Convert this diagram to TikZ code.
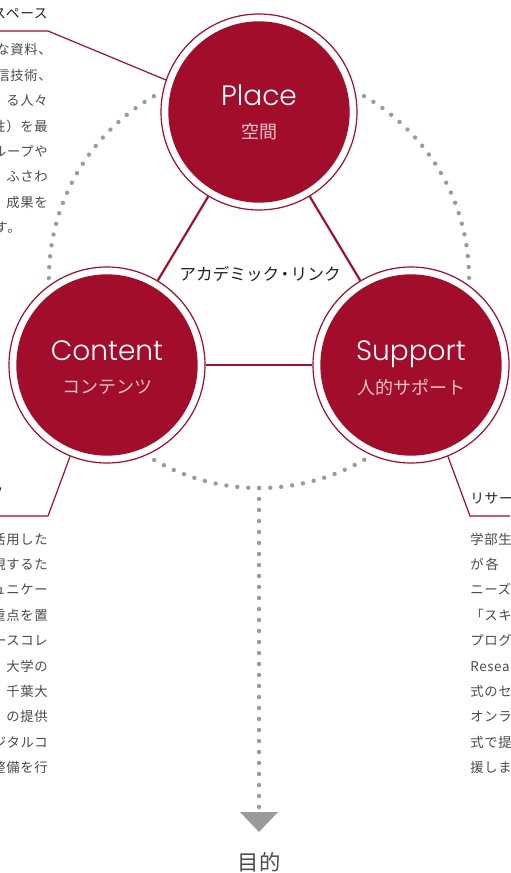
\documentclass[tikz,border=0pt]{standalone}
\usepackage{fontspec}
\newfontfamily\popfont{Poppins Light}
\newfontfamily\jpfont{Noto Sans CJK JP}
\newfontfamily\jpwide{Noto Sans CJK JP}[LetterSpace=5]
\usetikzlibrary{positioning}
\definecolor{lkred}{HTML}{A20D2C}
\definecolor{lkpink}{HTML}{EBC3CB}
\definecolor{lktext}{HTML}{4A4A4A}
\definecolor{lkdark}{HTML}{222222}
\definecolor{lkdot}{HTML}{9B9B9B}
\tikzset{
  ring/.style={circle,draw=lkred,fill=white,line width=0.9pt,minimum size=147pt,
               inner sep=0pt,preaction={draw=white,line width=7pt}},
  core/.style={circle,fill=lkred,minimum size=136pt,inner sep=0pt},
  title/.style={font=\popfont\fontsize{21}{21}\selectfont,text=white,anchor=base,inner sep=0pt},
  sub/.style={font=\jpfont\fontsize{13.5}{13.5}\selectfont,text=lkpink,inner sep=0pt},
  tie/.style={lkred,line width=1.6pt},
  call/.style={lkred,line width=0.9pt},
  dots/.style={lkdot,line width=3.3pt,line cap=round,dash pattern=on 0pt off 8.25pt},
  body/.style={font=\jpwide\fontsize{10}{10}\selectfont,text=lktext,inner sep=0pt},
  head/.style={font=\jpwide\fontsize{10.3}{10.3}\selectfont,text=lkdark,inner sep=0pt},
}

\begin{document}
\begin{tikzpicture}[x=0.75pt,y=-0.75pt]
  \useasboundingbox (0,0) rectangle (510,873);
  \clip (0,0) rectangle (510,873);
  % dotted loop and drop line
  \coordinate (hub)  at (259,278);
  \coordinate (drop) at (259,488);
  \coordinate (tip)  at (259,808);
  \draw[dots] (hub) circle [radius=157.5pt];
  \draw[dots] (drop) -- (tip);
  \fill[lkdot] (240,812) -- (278,812) -- (259,832) -- cycle;
  \node[font=\jpfont\fontsize{16}{16}\selectfont,text=lktext] (goal) at (259,862) {目的};
  % the three circles
  \node[ring] (place)   at (259,112) {};
  \node[ring] (content) at (107,365) {};
  \node[ring] (support) at (411,365) {};
  \node[core] (placein)   at (place)   {};
  \node[core] (contentin) at (content) {};
  \node[core] (supportin) at (support) {};
  \node[title] (placet)   at (259,106) {Place};
  \node[title] (contentt) at (107,360) {Content};
  \node[title] (supportt) at (411,360) {Support};
  \node[sub] (places)   at (259,132) {空間};
  \node[sub] (contents) at (107,387) {コンテンツ};
  \node[sub] (supports) at (411,387) {人的サポート};
  \draw[tie] (place) -- (content);
  \draw[tie] (place) -- (support);
  \draw[tie] (content) -- (support);
  \node[font=\jpfont\fontsize{12.5}{12.5}\selectfont,text=lkdark] (link) at (260,274)
       {アカデミック\kern-2pt・\kern-2ptリンク};
  % callouts
  \coordinate (plA) at (0,31);   \coordinate (plB) at (48,31);
  \coordinate (coA) at (0,516);  \coordinate (coB) at (48,516);
  \coordinate (suA) at (510,516);\coordinate (suB) at (470,516);
  \draw[call] (plA) -- (plB) -- (place.161);
  \draw[call] (coA) -- (coB) -- (content.248);
  \draw[call] (suA) -- (suB) -- (support.292);
  \node[head,anchor=base east] (plhead) at (48,19) {グスペース};
  \node[head,anchor=base east] (cohead) at (3,497) {ツ};
  \node[head,anchor=base west] (suhead) at (470,503) {リサーチ};
  % text columns
  \foreach \x/\t [count=\i] in {48/な資料、\kern-3pt,48/信技術、\kern-3pt,48/る人々,48/性）を最,
      48/ループや,48/ふさわ,48/成果を,21/す。}
    \node[body,anchor=base east] (pl\i) at (\x,{55+25.4*(\i-1)}) {\t};
  \foreach \t [count=\i] in {活用した,現するた,ュニケー,重点を置,ソースコレ,
      大学の,千葉大,の提供,デジタルコ,整備を行}
    \node[body,anchor=base east] (co\i) at (48,{544+25.4*(\i-1)}) {\t};
  \foreach \t [count=\i] in {学部生,が\hspace{1.5pt}各,ニーズ,「スキ,プログ,
      Resea,式のセ,オンラ,式で提,援しま}
    \node[body,anchor=base west] (su\i) at (470,{544+25.4*(\i-1)}) {\t};
\end{tikzpicture}
\end{document}
